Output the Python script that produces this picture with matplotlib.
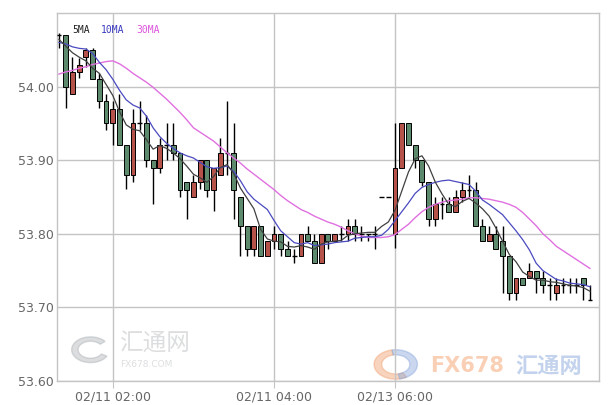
import matplotlib
matplotlib.use("Agg")
import matplotlib.pyplot as plt
from matplotlib.patches import Wedge
import numpy as np

plt.rcParams["font.family"] = ["DejaVu Sans", "Noto Sans CJK SC"]

# 5分钟K线数据 (开, 高, 低, 收)
opens = [54.07, 54.07, 53.99, 54.02, 54.04, 54.05, 54.01, 53.98, 53.95, 53.97,
         53.92, 53.88, 53.95, 53.95, 53.90, 53.89, 53.92, 53.92, 53.91, 53.87,
         53.85, 53.87, 53.90, 53.86, 53.88, 53.91, 53.91, 53.85, 53.81, 53.78,
         53.81, 53.77, 53.79, 53.80, 53.78, 53.77, 53.77, 53.80, 53.79, 53.76,
         53.80, 53.79, 53.80, 53.80, 53.81, 53.80, 53.80, 53.80, 53.85, 53.85,
         53.80, 53.89, 53.95, 53.92, 53.90, 53.87, 53.82, 53.84, 53.84, 53.83,
         53.85, 53.86, 53.86, 53.81, 53.79, 53.80, 53.79, 53.77, 53.72, 53.74,
         53.74, 53.75, 53.74, 53.73, 53.72, 53.73, 53.73, 53.73, 53.74, 53.71]
highs = [54.073, 54.07, 54.04, 54.039, 54.052, 54.052, 54.019, 53.99, 53.98, 53.99,
         53.92, 53.97, 53.98, 53.961, 53.90, 53.93, 53.95, 53.95, 53.91, 53.87,
         53.88, 53.90, 53.90, 53.89, 53.93, 53.981, 53.95, 53.85, 53.81, 53.81,
         53.81, 53.79, 53.81, 53.80, 53.79, 53.78, 53.80, 53.81, 53.80, 53.80,
         53.80, 53.80, 53.81, 53.82, 53.82, 53.81, 53.80, 53.81, 53.85, 53.85,
         53.95, 53.95, 53.95, 53.92, 53.90, 53.87, 53.85, 53.85, 53.85, 53.86,
         53.87, 53.88, 53.87, 53.82, 53.81, 53.81, 53.81, 53.77, 53.74, 53.74,
         53.76, 53.75, 53.75, 53.74, 53.74, 53.74, 53.74, 53.74, 53.74, 53.73]
lows = [54.052, 53.971, 53.99, 54.012, 54.027, 54.011, 53.971, 53.941, 53.921, 53.92,
        53.861, 53.871, 53.941, 53.891, 53.841, 53.882, 53.90, 53.90, 53.85, 53.82,
        53.85, 53.861, 53.85, 53.831, 53.88, 53.88, 53.82, 53.77, 53.77, 53.77,
        53.77, 53.77, 53.78, 53.77, 53.77, 53.76, 53.77, 53.79, 53.76, 53.76,
        53.78, 53.79, 53.79, 53.79, 53.79, 53.79, 53.79, 53.78, 53.85, 53.85,
        53.781, 53.89, 53.92, 53.89, 53.865, 53.81, 53.81, 53.82, 53.83, 53.83,
        53.843, 53.85, 53.81, 53.79, 53.79, 53.78, 53.72, 53.71, 53.71, 53.73,
        53.74, 53.72, 53.72, 53.71, 53.71, 53.72, 53.72, 53.72, 53.71, 53.71]
closes = [54.07, 54.00, 54.02, 54.03, 54.05, 54.01, 53.98, 53.95, 53.97, 53.92,
          53.88, 53.95, 53.95, 53.90, 53.89, 53.92, 53.92, 53.91, 53.86, 53.86,
          53.87, 53.90, 53.86, 53.89, 53.91, 53.91, 53.86, 53.81, 53.78, 53.81,
          53.77, 53.79, 53.80, 53.78, 53.77, 53.77, 53.80, 53.79, 53.76, 53.80,
          53.79, 53.80, 53.80, 53.81, 53.80, 53.80, 53.80, 53.80, 53.85, 53.85,
          53.89, 53.95, 53.92, 53.90, 53.87, 53.82, 53.84, 53.84, 53.83, 53.85,
          53.86, 53.86, 53.81, 53.79, 53.80, 53.78, 53.77, 53.72, 53.74, 53.73,
          53.75, 53.74, 53.73, 53.73, 53.73, 53.73, 53.73, 53.73, 53.73, 53.71]

# 均线
ma5 = [54.064, 54.055, 54.046, 54.040, 54.035, 54.025, 54.018, 54.003, 53.988, 53.966,
       53.948, 53.942, 53.940, 53.928, 53.915, 53.920, 53.916, 53.910, 53.902, 53.892,
       53.881, 53.876, 53.870, 53.878, 53.890, 53.894, 53.882, 53.862, 53.848, 53.834,
       53.806, 53.793, 53.790, 53.789, 53.783, 53.782, 53.784, 53.782, 53.779, 53.786,
       53.789, 53.790, 53.791, 53.798, 53.800, 53.801, 53.802, 53.802, 53.810, 53.816,
       53.832, 53.858, 53.884, 53.902, 53.906, 53.892, 53.870, 53.854, 53.840, 53.837,
       53.844, 53.848, 53.842, 53.834, 53.824, 53.808, 53.790, 53.772, 53.762, 53.748,
       53.742, 53.737, 53.737, 53.735, 53.734, 53.732, 53.730, 53.729, 53.727, 53.722]
ma10 = [54.060, 54.058, 54.054, 54.052, 54.051, 54.045, 54.033, 54.023, 54.010, 53.995,
        53.982, 53.975, 53.971, 53.960, 53.944, 53.932, 53.923, 53.916, 53.910, 53.906,
        53.903, 53.897, 53.891, 53.889, 53.890, 53.892, 53.885, 53.872, 53.857, 53.847,
        53.840, 53.833, 53.818, 53.804, 53.796, 53.788, 53.786, 53.788, 53.784, 53.785,
        53.786, 53.788, 53.789, 53.790, 53.794, 53.795, 53.796, 53.796, 53.798, 53.806,
        53.818, 53.830, 53.842, 53.855, 53.863, 53.867, 53.870, 53.872, 53.873, 53.871,
        53.869, 53.867, 53.858, 53.846, 53.840, 53.833, 53.826, 53.815, 53.804, 53.792,
        53.778, 53.760, 53.750, 53.744, 53.738, 53.736, 53.733, 53.732, 53.731, 53.728]
ma30 = [54.017, 54.020, 54.022, 54.025, 54.027, 54.030, 54.032, 54.034, 54.035, 54.031,
        54.025, 54.018, 54.012, 54.006, 53.999, 53.991, 53.983, 53.974, 53.965, 53.955,
        53.944, 53.938, 53.932, 53.926, 53.918, 53.910, 53.903, 53.896, 53.888, 53.881,
        53.874, 53.867, 53.860, 53.852, 53.845, 53.839, 53.833, 53.829, 53.824, 53.820,
        53.816, 53.813, 53.809, 53.804, 53.800, 53.797, 53.795, 53.795, 53.795, 53.796,
        53.799, 53.806, 53.813, 53.822, 53.830, 53.836, 53.840, 53.843, 53.845, 53.846,
        53.847, 53.849, 53.849, 53.848, 53.847, 53.845, 53.843, 53.840, 53.836, 53.829,
        53.820, 53.811, 53.800, 53.792, 53.783, 53.777, 53.771, 53.765, 53.759, 53.753]

y_ticks = [53.60, 53.70, 53.80, 53.90, 54.00]
x_tick_pos = [8, 32, 50]
x_tick_labels = ["02/11 02:00", "02/11 04:00", "02/13 06:00"]

W, H = 611, 405
fig = plt.figure(figsize=(W / 100, H / 100), dpi=100)
ax = fig.add_axes([57 / W, 24 / H, 542 / W, 368 / H])

grid_c = "#c4c4c4"
up_c = "#b5524a"
down_c = "#5d8a6d"

x = np.arange(len(closes))
o = np.array(opens)
c = np.array(closes)
hi = np.array(highs)
lo = np.array(lows)
body_w = 0.72

# 水印
ax.text(0.115, 0.10, "汇通网", transform=ax.transAxes, fontsize=17,
        family=["Noto Sans CJK SC"], color="#9aa0a6", alpha=0.35, va="center", zorder=0)
ax.text(0.117, 0.045, "FX678.COM", transform=ax.transAxes, fontsize=6.5,
        color="#9aa0a6", alpha=0.35, va="center", zorder=0)
ax.add_patch(Wedge((0.062, 0.085), 0.035, 40, 330, width=0.012, transform=ax.transAxes,
                   color="#9aa0a6", alpha=0.35, zorder=0))
ax.add_patch(Wedge((0.625, 0.045), 0.04, 100, 300, width=0.014, transform=ax.transAxes,
                   color="#f0a070", alpha=0.45, zorder=0))
ax.add_patch(Wedge((0.625, 0.045), 0.04, -80, 100, width=0.014, transform=ax.transAxes,
                   color="#8aa8dc", alpha=0.45, zorder=0))
ax.text(0.688, 0.04, "FX678", transform=ax.transAxes, fontsize=15, fontweight="bold",
        color="#f5a878", alpha=0.55, va="center", zorder=0)
ax.text(0.845, 0.04, "汇通网", transform=ax.transAxes, fontsize=16, fontweight="bold",
        family=["Noto Sans CJK SC"], color="#8aa8dc", alpha=0.5, va="center", zorder=0)

# 影线
ax.vlines(x, lo, hi, color="black", linewidth=1, zorder=2)

# 实体
up = c > o
down = c < o
flat = c == o
ax.bar(x[up], (c - o)[up], bottom=o[up], width=body_w, color=up_c,
       edgecolor="black", linewidth=0.7, zorder=3)
ax.bar(x[down], (o - c)[down], bottom=c[down], width=body_w, color=down_c,
       edgecolor="black", linewidth=0.7, zorder=3)
ax.hlines(c[flat], x[flat] - body_w / 2, x[flat] + body_w / 2, color="black",
          linewidth=1, zorder=3)

# 均线
ax.plot(x, ma30, color="#e070e0", linewidth=1, zorder=4)
ax.plot(x, ma10, color="#4a4ac0", linewidth=0.9, zorder=4)
ax.plot(x, ma5, color="#404040", linewidth=0.9, zorder=4)

fig.text(72 / W, 1 - 30 / H, "5MA", fontsize=7, family="DejaVu Sans Mono",
         color="#222222", va="center")
fig.text(101 / W, 1 - 30 / H, "10MA", fontsize=7, family="DejaVu Sans Mono",
         color="#3a3ac0", va="center")
fig.text(136 / W, 1 - 30 / H, "30MA", fontsize=7, family="DejaVu Sans Mono",
         color="#dd55dd", va="center")

ax.set_xlim(-0.3, 80.35)
ax.set_ylim(53.60, 54.10)
ax.set_yticks(y_ticks)
ax.set_yticklabels([f"{v:.2f}" for v in y_ticks])
ax.set_xticks(x_tick_pos)
ax.set_xticklabels(x_tick_labels)
ax.tick_params(axis="y", length=0, pad=2, labelsize=9, labelcolor="#666666")
ax.tick_params(axis="x", length=5, color=grid_c, pad=2, labelsize=9, labelcolor="#666666")
ax.grid(True, color=grid_c, linewidth=1)
ax.set_axisbelow(True)
for s in ax.spines.values():
    s.set_color(grid_c)
    s.set_linewidth(1)

fig.savefig("out.png", dpi=100)
